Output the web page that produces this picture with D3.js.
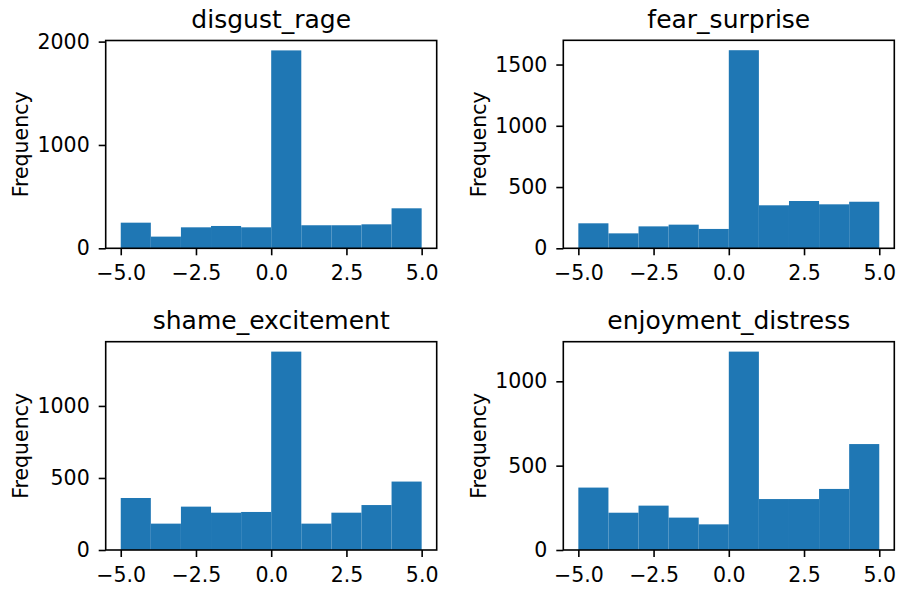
<!DOCTYPE html>
<html>
<head>
<meta charset="utf-8">
<script src="https://cdn.jsdelivr.net/npm/d3@7"></script>
<style>
  html, body { margin: 0; padding: 0; background: #fff; }
  svg { display: block; }
  text { font-family: "DejaVu Sans", sans-serif; fill: #000; }
</style>
</head>
<body>
<svg id="chart" width="902" height="591"></svg>
<script>
// ---- data ----
const binEdges = [-5, -4, -3, -2, -1, 0, 1, 2, 3, 4, 5];
const titles = ["disgust_rage", "fear_surprise", "shame_excitement", "enjoyment_distress"];
const disgustRage = [248, 113, 203, 216, 203, 1915, 223, 223, 232, 387];
const fearSurprise = [204, 122, 179, 193, 158, 1617, 351, 386, 359, 380];
const shameExcitement = [361, 183, 301, 259, 264, 1377, 183, 259, 312, 475];
const enjoymentDistress = [370, 221, 263, 192, 152, 1176, 302, 302, 362, 628];
const xTickValues = [-5, -2.5, 0, 2.5, 5];
const yTicks1 = [0, 1000, 2000];
const yTicks2 = [0, 500, 1000, 1500];
const yTicks3 = [0, 500, 1000];
const yTicks4 = [0, 500, 1000];

const panels = [
  { title: titles[0], values: disgustRage, yTicks: yTicks1, box: [105.7, 40.5, 436.7, 248.3] },
  { title: titles[1], values: fearSurprise, yTicks: yTicks2, box: [563.3, 40.3, 894.3, 248.3] },
  { title: titles[2], values: shameExcitement, yTicks: yTicks3, box: [105.7, 341.7, 436.7, 550] },
  { title: titles[3], values: enjoymentDistress, yTicks: yTicks4, box: [563.3, 341.7, 894.3, 550] }
];

const svg = d3.select("#chart");
const fmtX = v => d3.format(".1f")(v).replace("-", "\u2212");

panels.forEach(p => {
  const [x0, y0, x1, y1] = p.box;
  const g = svg.append("g");
  const x = d3.scaleLinear().domain([-5.5, 5.5]).range([x0, x1]);
  const y = d3.scaleLinear().domain([0, d3.max(p.values) * 1.05]).range([y1, y0]);

  const bins = p.values.map((v, i) => ({ a: binEdges[i], b: binEdges[i + 1], v }));
  g.selectAll("rect.bar").data(bins).enter().append("rect")
    .attr("class", "bar")
    .attr("x", d => x(d.a))
    .attr("width", d => x(d.b) - x(d.a))
    .attr("y", d => y(d.v))
    .attr("height", d => y(0) - y(d.v))
    .attr("fill", "#1f77b4");

  const xAxis = g.append("g").attr("transform", `translate(0,${y1})`)
    .call(d3.axisBottom(x).tickValues(xTickValues).tickFormat(fmtX).tickSize(7).tickPadding(10));
  const yAxis = g.append("g").attr("transform", `translate(${x0},0)`)
    .call(d3.axisLeft(y).tickValues(p.yTicks).tickFormat(d3.format("d")).tickSize(7).tickPadding(9));
  [xAxis, yAxis].forEach(a => {
    a.select(".domain").remove();
    a.selectAll(".tick line").attr("stroke", "#000").attr("stroke-width", 1.6);
    a.selectAll(".tick text").style("font-family", "DejaVu Sans").style("font-size", "20.5px").attr("fill", "#000");
  });

  g.append("rect")
    .attr("x", x0).attr("y", y0)
    .attr("width", x1 - x0).attr("height", y1 - y0)
    .attr("fill", "none").attr("stroke", "#000").attr("stroke-width", 1.6);

  g.append("text")
    .attr("x", (x0 + x1) / 2).attr("y", y0 - 12.5)
    .attr("text-anchor", "middle")
    .style("font-size", "25px")
    .text(p.title);

  g.append("text")
    .attr("transform", `translate(${x0 - 77.4},${(y0 + y1) / 2}) rotate(-90)`)
    .attr("text-anchor", "middle")
    .style("font-size", "20.5px")
    .text("Frequency");
});
</script>
</body>
</html>
